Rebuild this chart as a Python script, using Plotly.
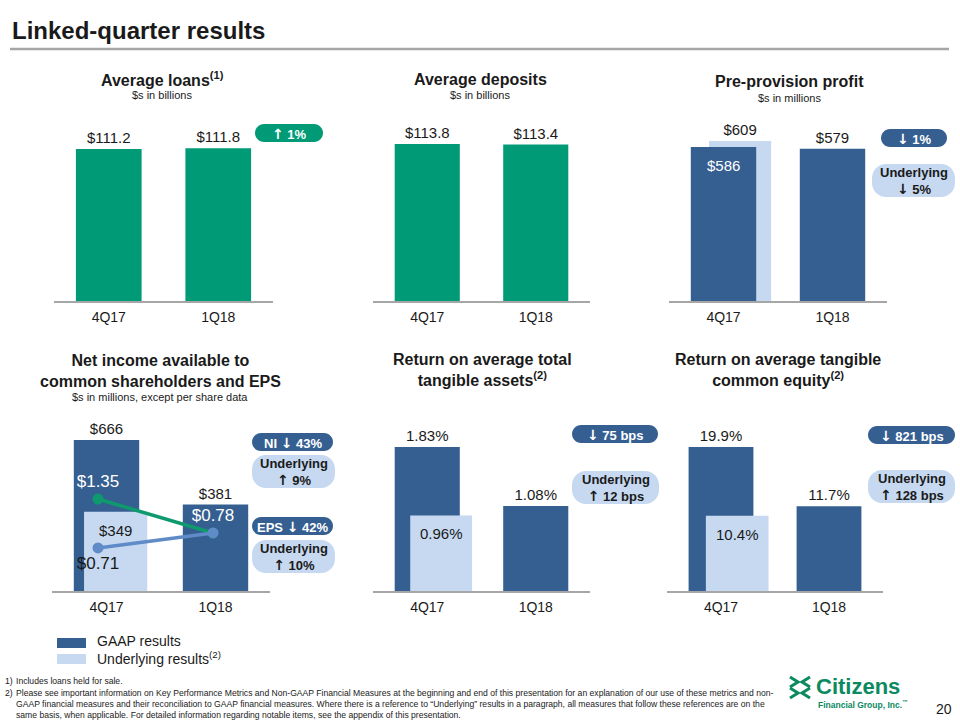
import plotly.graph_objects as go

W, H = 960, 720

# ---------------- data ----------------
QUARTERS = ["4Q17", "1Q18"]
LOANS = [111.2, 111.8]
DEPOSITS = [113.8, 113.4]
PPP_GAAP = [586, 579]
PPP_UNDERLYING = [609]
NI_GAAP = [666, 381]
NI_UNDERLYING = [349]
EPS_GAAP = [1.35, 0.78]
EPS_UNDERLYING = [0.71, 0.78]
ROTA_GAAP = [1.83, 1.08]
ROTA_UNDERLYING = [0.96]
ROTCE_GAAP = [19.9, 11.7]
ROTCE_UNDERLYING = [10.4]

PAGE_TITLE = "Linked-quarter results"
CHART_TITLES = [
    "Average loans<sup>(1)</sup>",
    "Average deposits",
    "Pre-provision profit",
    "Net income available to<br>common shareholders and EPS",
    "Return on average total<br>tangible assets<sup>(2)</sup>",
    "Return on average tangible<br>common equity<sup>(2)</sup>",
]
CHART_SUBTITLES = ["$s in billions", "$s in billions", "$s in millions",
                   "$s in millions, except per share data", "", ""]
UP, DOWN = "↑", "↓"
BADGE_TEXTS = [
    f"{UP} 1%", f"{DOWN} 1%", f"Underlying<br>{DOWN} 5%",
    f"NI {DOWN} 43%", f"Underlying<br>{UP} 9%", f"EPS {DOWN} 42%", f"Underlying<br>{UP} 10%",
    f"{DOWN} 75 bps", f"Underlying<br>{UP} 12 bps",
    f"{DOWN} 821 bps", f"Underlying<br>{UP} 128 bps",
]
LEGEND_LABELS = ["GAAP results", "Underlying results<sup>(2)</sup>"]
FOOTNOTES = [
    ("1)", "Includes loans held for sale."),
    ("2)", "Please see important information on Key Performance Metrics and Non-GAAP Financial Measures at the beginning and end of this presentation for an explanation of our use of these metrics and non-"),
    ("", "GAAP financial measures and their reconciliation to GAAP financial measures. Where there is a reference to “Underlying” results in a paragraph, all measures that follow these references are on the"),
    ("", "same basis, when applicable. For detailed information regarding notable items, see the appendix of this presentation."),
]
PAGE_NUMBER = "20"

# ---------------- styles ----------------
FONT = "Liberation Sans, Arial, sans-serif"
ARROW_FONT = "DejaVu Sans"
GREEN = "#009B76"
DARK = "#365F91"
LIGHT = "#C6D9F1"
EPS_GREEN = "#0E9A6E"
EPS_BLUE = "#5F8BC8"
AXIS = "#A6A6A6"
TXT = "#1a1a1a"
LOGO_GREEN = "#0B8A5F"


def px(x):
    return x / W


def py(y):
    return 1 - y / H


# chart frames: x pixel extent, baseline pixel, top pixel, y range top
FRAMES = [
    dict(x0=54, x1=273, yb=301, yt=121, ymax=131.7),
    dict(x0=373, x1=590, yb=301, yt=121, ymax=130.5),
    dict(x0=669, x1=887, yb=301, yt=121, ymax=685.0),
    dict(x0=52, x1=270, yb=591, yt=421, ymax=749.8),
    dict(x0=373, x1=590, yb=591, yt=421, ymax=2.160),
    dict(x0=667, x1=883, yb=591, yt=421, ymax=23.49),
]
TITLE_POS = [(162, 79, 95), (480, 79, 95), (789, 81, 98),
             (160, 371, 397), (482, 370, None), (778, 370, None)]
UND_OFFSET = {3: (-0.133, 0.57), 4: (-0.206, 0.58), 5: (-0.157, 0.57), 6: (-0.14, 0.58)}
GAAP_OFFSET, GAAP_WIDTH = -0.3, 0.6
INSIDE_SHIFT = -8

X_POS = [0, 1]

fig = go.Figure()
annotations = []
shapes = []


def inside_label(i, x, y, text, color):
    annotations.append(dict(
        x=x, y=y, xref=f"x{i}", yref=f"y{i}", text=text, showarrow=False,
        xanchor="center", yanchor="top", yshift=INSIDE_SHIFT,
        font=dict(family=FONT, size=15, color=color)))


def gaap_bar(i, vals, fmt, color, inside=()):
    labels = [fmt.format(v) for v in vals]
    fig.add_trace(go.Bar(
        x=X_POS[:len(vals)], y=vals, xaxis=f"x{i}", yaxis=f"y{i}",
        marker=dict(color=color, line=dict(width=0)),
        offset=GAAP_OFFSET, width=GAAP_WIDTH,
        text=["" if k in inside else t for k, t in enumerate(labels)],
        textposition="outside",
        outsidetextfont=dict(family=FONT, size=15, color=TXT),
        cliponaxis=False, showlegend=False, hoverinfo="skip"))
    for k in inside:
        inside_label(i, X_POS[k] + GAAP_OFFSET + GAAP_WIDTH / 2, vals[k], labels[k], "white")


def und_bar(i, vals, fmt, inside):
    off, wd = UND_OFFSET[i]
    labels = [fmt.format(v) for v in vals]
    fig.add_trace(go.Bar(
        x=X_POS[:len(vals)], y=vals, xaxis=f"x{i}", yaxis=f"y{i}",
        marker=dict(color=LIGHT, line=dict(width=0)),
        offset=off, width=wd,
        text=None if inside else labels, textposition="outside",
        outsidetextfont=dict(family=FONT, size=15, color=TXT),
        cliponaxis=False, showlegend=False, hoverinfo="skip"))
    if inside:
        for k, v in enumerate(vals):
            inside_label(i, X_POS[k] + off + wd / 2, v, labels[k], TXT)


gaap_bar(1, LOANS, "${:.1f}", GREEN)
gaap_bar(2, DEPOSITS, "${:.1f}", GREEN)
und_bar(3, PPP_UNDERLYING, "${:.0f}", inside=False)
gaap_bar(3, PPP_GAAP, "${:.0f}", DARK, inside=(0,))
gaap_bar(4, NI_GAAP, "${:.0f}", DARK)
und_bar(4, NI_UNDERLYING, "${:.0f}", inside=True)
gaap_bar(5, ROTA_GAAP, "{:.2f}%", DARK)
und_bar(5, ROTA_UNDERLYING, "{:.2f}%", inside=True)
gaap_bar(6, ROTCE_GAAP, "{:.1f}%", DARK)
und_bar(6, ROTCE_UNDERLYING, "{:.1f}%", inside=True)

# EPS lines
fig.add_trace(go.Scatter(
    x=X_POS, y=EPS_UNDERLYING, xaxis="x7", yaxis="y8",
    mode="lines+markers+text",
    line=dict(color=EPS_BLUE, width=3.5), marker=dict(color=EPS_BLUE, size=11),
    text=[f"${EPS_UNDERLYING[0]:.2f}", " "], textposition="bottom center",
    textfont=dict(family=FONT, size=17, color=TXT),
    cliponaxis=False, showlegend=False, hoverinfo="skip"))
fig.add_trace(go.Scatter(
    x=X_POS, y=EPS_GAAP, xaxis="x7", yaxis="y7",
    mode="lines+markers+text",
    line=dict(color=EPS_GREEN, width=3.5), marker=dict(color=EPS_GREEN, size=11),
    text=[f"${v:.2f}" for v in EPS_GAAP], textposition="top center",
    textfont=dict(family=FONT, size=17, color="white"),
    cliponaxis=False, showlegend=False, hoverinfo="skip"))

layout = dict(
    width=W, height=H, margin=dict(l=0, r=0, t=0, b=0),
    paper_bgcolor="white", plot_bgcolor="rgba(0,0,0,0)",
    barmode="overlay", showlegend=False,
    font=dict(family=FONT, color=TXT),
)
for i, f in enumerate(FRAMES, start=1):
    layout[f"xaxis{i}"] = dict(
        domain=[px(f["x0"]), px(f["x1"])], range=[-0.5, 1.5],
        anchor=f"y{i}", tickvals=X_POS, ticktext=QUARTERS, ticks="",
        ticklabelstandoff=2,
        tickfont=dict(family=FONT, size=14, color=TXT),
        showline=True, linecolor=AXIS, linewidth=2, showgrid=False,
        zeroline=False, fixedrange=True)
    layout[f"yaxis{i}"] = dict(
        domain=[py(f["yb"]), py(f["yt"])], range=[0, f["ymax"]],
        anchor=f"x{i}", visible=False, fixedrange=True)

# overlay axes for EPS lines (within NI chart)
layout["xaxis7"] = dict(overlaying="x4", range=[-0.4, 1.4957], visible=False,
                        anchor="y7", fixedrange=True)
layout["yaxis7"] = dict(overlaying="y4", range=[-0.192, 2.658], visible=False,
                        anchor="x7", fixedrange=True)
layout["yaxis8"] = dict(overlaying="y4", range=[0.509, 1.303], visible=False,
                        anchor="x7", fixedrange=True)


def ann(x, y, text, size, color=TXT, bold=False, xanchor="center", family=FONT):
    annotations.append(dict(
        x=px(x), y=py(y), xref="paper", yref="paper", text=f"<b>{text}</b>" if bold else text,
        showarrow=False, xanchor=xanchor, yanchor="middle",
        font=dict(family=family, size=size, color=color)))


def pill(x0, y0, x1, y1, color):
    r = min((y1 - y0) / 2, 14)
    k = 0.552 * r
    pts = [
        ("M", [(x0 + r, y0)]), ("L", [(x1 - r, y0)]),
        ("C", [(x1 - r + k, y0), (x1, y0 + r - k), (x1, y0 + r)]),
        ("L", [(x1, y1 - r)]),
        ("C", [(x1, y1 - r + k), (x1 - r + k, y1), (x1 - r, y1)]),
        ("L", [(x0 + r, y1)]),
        ("C", [(x0 + r - k, y1), (x0, y1 - r + k), (x0, y1 - r)]),
        ("L", [(x0, y0 + r)]),
        ("C", [(x0, y0 + r - k), (x0 + r - k, y0), (x0 + r, y0)]),
    ]
    path = " ".join(c + " " + " ".join(f"{px(a):.5f},{py(b):.5f}" for a, b in p) for c, p in pts) + " Z"
    shapes.append(dict(type="path", xref="paper", yref="paper", path=path,
                       fillcolor=color, line=dict(width=0), layer="above"))


def arrows(text):
    for a in (UP, DOWN):
        text = text.replace(a, f"<span style=\"font-family:'{ARROW_FONT}';font-size:14px\">{a}</span>")
    return text


# page title and rule
ann(10, 31, PAGE_TITLE, 24, bold=True, xanchor="left")
shapes.append(dict(type="line", xref="paper", yref="paper", x0=px(10), x1=px(949),
                   y0=py(49), y1=py(49), line=dict(color=AXIS, width=2.5)))

# chart titles
for (cx, ty, sy), t, s in zip(TITLE_POS, CHART_TITLES, CHART_SUBTITLES):
    ann(cx, ty, t, 16, bold=True)
    if s and sy:
        ann(cx, sy, s, 11)

# badges: (box, fill, text color)
BADGE_BOXES = [
    ((255, 124, 323, 142), GREEN, "white"),
    ((881, 129, 947, 147), DARK, "white"),
    ((872, 164, 955, 197), LIGHT, TXT),
    ((252, 433, 333, 451), DARK, "white"),
    ((252, 455, 335, 488), LIGHT, TXT),
    ((252, 517, 333, 535), DARK, "white"),
    ((252, 540, 335, 573), LIGHT, TXT),
    ((572, 425, 658, 443), DARK, "white"),
    ((572, 471, 659, 504), LIGHT, TXT),
    ((868, 426, 955, 444), DARK, "white"),
    ((868, 470, 955, 503), LIGHT, TXT),
]
for (box, fill, tc), text in zip(BADGE_BOXES, BADGE_TEXTS):
    x0, y0, x1, y1 = box
    pill(x0, y0, x1, y1, fill)
    ann((x0 + x1) / 2, (y0 + y1) / 2 + 0.5, arrows(text), 13, color=tc, bold=True)

# legend
LEG = [((57, 638, 86, 648), DARK, 641), ((57, 654, 86, 664), LIGHT, 658)]
for (box, fill, ty), lab in zip(LEG, LEGEND_LABELS):
    x0, y0, x1, y1 = box
    shapes.append(dict(type="rect", xref="paper", yref="paper", x0=px(x0), x1=px(x1),
                       y0=py(y1), y1=py(y0), fillcolor=fill, line=dict(width=0)))
    ann(95, ty, lab, 14, xanchor="left")

# footnotes
for (lab, txt), y in zip(FOOTNOTES, [681, 692.5, 703.5, 714.5]):
    if lab:
        ann(3, y, lab, 8.6, xanchor="left")
    ann(14, y, txt, 8.6, xanchor="left")

# logo
for (ax, ay, bx, by, cx, cy) in [
    (790, 677, 798, 682, 790, 687), (810, 677, 802, 682, 810, 687),
    (790, 688, 798, 693, 790, 698), (810, 688, 802, 693, 810, 698),
]:
    path = f"M {px(ax):.5f},{py(ay):.5f} L {px(bx):.5f},{py(by):.5f} L {px(cx):.5f},{py(cy):.5f}"
    shapes.append(dict(type="path", xref="paper", yref="paper", path=path,
                       line=dict(color=LOGO_GREEN, width=3)))
ann(814, 686, "Citizens", 22, color=LOGO_GREEN, bold=True, xanchor="left")
ann(816, 704, "Financial Group, Inc.<sup>™</sup>", 8.5, color=LOGO_GREEN, bold=True, xanchor="left")

ann(944, 709, PAGE_NUMBER, 14)

layout["annotations"] = annotations
layout["shapes"] = shapes
fig.update_layout(**layout)

fig.write_html("out.html", config={"displayModeBar": False},
               post_script="document.body.style.margin='0';")
